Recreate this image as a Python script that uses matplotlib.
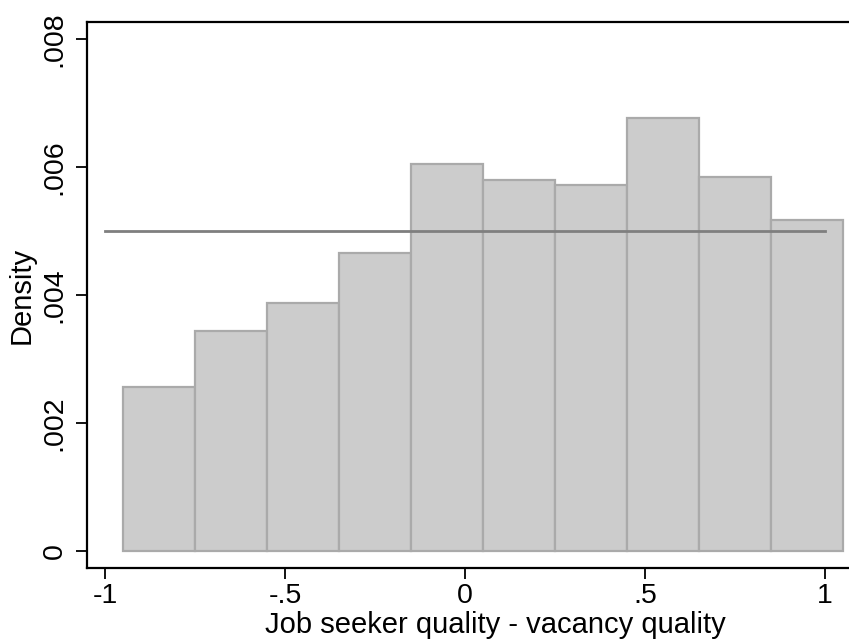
import matplotlib
matplotlib.use("Agg")
import matplotlib.pyplot as plt
import numpy as np

plt.rcParams['font.family'] = ['Liberation Sans', 'DejaVu Sans']

# Histogram of quality differences (bin width 0.2)
bin_left = [-0.95, -0.75, -0.55, -0.35, -0.15, 0.05, 0.25, 0.45, 0.65, 0.85]
density = [0.00257, 0.00343, 0.00387, 0.00466, 0.00604, 0.00579, 0.00572, 0.00676, 0.00585, 0.00517]
bin_width = 0.2

# Uniform reference density
uniform_x = [-1, 1]
uniform_y = [0.005, 0.005]

xticks = [-1, -0.5, 0, 0.5, 1]
xtick_labels = ["-1", "-.5", "0", ".5", "1"]
yticks = [0, 0.002, 0.004, 0.006, 0.008]
ytick_labels = ["0", ".002", ".004", ".006", ".008"]

fig = plt.figure(figsize=(8.49, 6.41), dpi=100)
W, H = 849, 641
# plot region runs past the right edge of the canvas
left, right, top, bottom = 87.3, 903, 22, 568
ax = fig.add_axes([left / W, 1 - bottom / H, (right - left) / W, (bottom - top) / H])

ax.bar(bin_left, density, width=bin_width, align='edge', color='#cccccc',
       edgecolor='#aaaaaa', linewidth=1.6, zorder=2)
ax.plot(uniform_x, uniform_y, color='#7f7f7f', linewidth=2.0, zorder=3)

ax.set_xlim(-1.049, 1.2167)
ax.set_ylim(-0.000266, 0.008266)

ax.set_xticks(xticks)
ax.set_xticklabels(xtick_labels)
ax.set_yticks(yticks)
ax.set_yticklabels(ytick_labels, rotation=90, va='center')

ax.tick_params(axis='both', length=8, width=1.3, color='black', labelsize=20.5)
ax.tick_params(axis='x', pad=2.5)
ax.tick_params(axis='y', pad=6)

for side in ['left', 'bottom', 'top']:
    ax.spines[side].set_linewidth(1.6)
    ax.spines[side].set_color('black')
ax.spines['right'].set_visible(False)

ax_w = right - left
ax_h = bottom - top
ax.set_xlabel("Job seeker quality - vacancy quality", fontsize=21)
ax.xaxis.label.set_va('baseline')
ax.xaxis.set_label_coords(0.5, -(633 - bottom) / ax_h)
ax.set_ylabel("Density", fontsize=21)
ax.yaxis.set_label_coords(-(left - 36) / ax_w, 0.5)

fig.savefig("out.png", dpi=100, facecolor='white')
